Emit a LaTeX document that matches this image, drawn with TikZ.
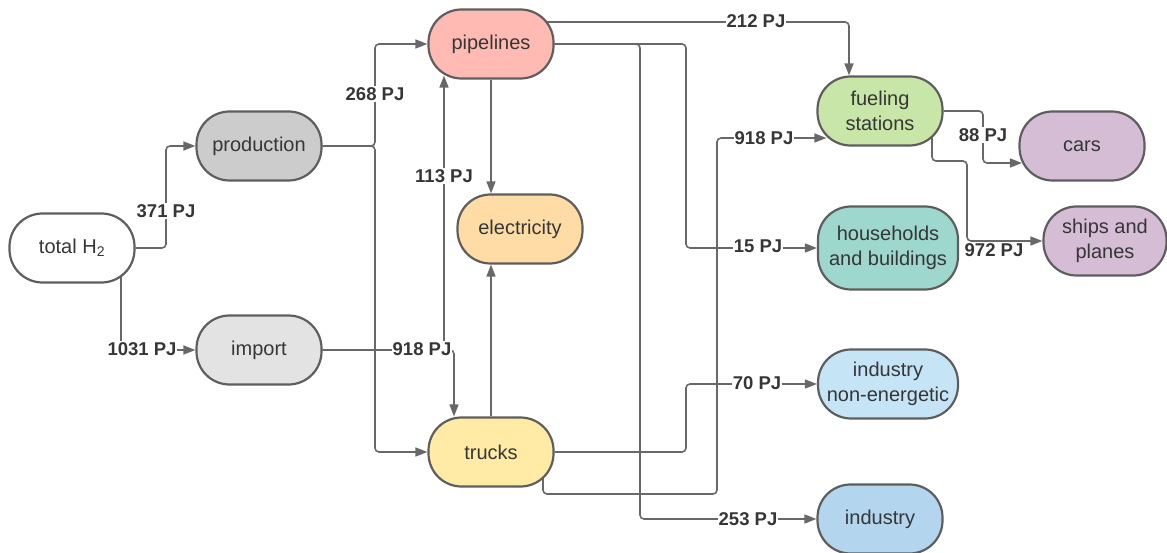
\documentclass[tikz,border=0pt]{standalone}
\usepackage{fontspec}
\setmainfont{Liberation Sans}
\usetikzlibrary{arrows.meta,backgrounds}

\definecolor{edgegray}{HTML}{5E5E5E}
\definecolor{linegray}{HTML}{686868}
\definecolor{txtgray}{HTML}{363636}
\definecolor{cProd}{HTML}{CCCCCC}
\definecolor{cImp}{HTML}{E3E3E3}
\definecolor{cPipe}{HTML}{FFBAB3}
\definecolor{cElec}{HTML}{FFDBA6}
\definecolor{cTruck}{HTML}{FFEBA5}
\definecolor{cFuel}{HTML}{C8E6A8}
\definecolor{cVeh}{HTML}{D5BDD6}
\definecolor{cHouse}{HTML}{9ED7CD}
\definecolor{cIndNE}{HTML}{C5E4F6}
\definecolor{cInd}{HTML}{B3D6EE}

\tikzset{
  stadium/.style={draw=edgegray, line width=2.2pt, rounded corners=33pt,
    minimum width=125pt, minimum height=69pt, inner sep=2pt, align=center,
    text=txtgray, font=\fontsize{20}{25}\selectfont},
  conn/.style={draw=linegray, line width=1.6pt, rounded corners=4pt},
  arr/.style={conn, -{Triangle[length=12pt,width=9pt]}},
  flow/.style={fill=white, inner sep=1pt, text=txtgray,
    font=\fontsize{18.5}{20}\selectfont\bfseries},
}

\begin{document}
\begin{tikzpicture}[x=1pt,y=-1pt]
\useasboundingbox (0,0) rectangle (1167,553);

% sources and carriers
\node[stadium, fill=white]  (tot) at (72,248)  {total H\textsubscript{2}};
\node[stadium, fill=cProd]  (prd) at (259,146) {production};
\node[stadium, fill=cImp]   (imp) at (259,350) {import};
\node[stadium, fill=cPipe]  (pip) at (491,44)  {pipelines};
\node[stadium, fill=cElec]  (ele) at (520,229) {electricity};
\node[stadium, fill=cTruck] (trk) at (491,452) {trucks};

% consumers
\node[stadium, fill=cFuel]  (fue) at (880,111) {fueling\\stations};
\node[stadium, fill=cVeh]   (car) at (1082,146) {cars};
\node[stadium, fill=cHouse, minimum width=140pt, minimum height=83pt]
                            (hh)  at (888,248) {households\\and buildings};
\node[stadium, fill=cVeh, minimum width=123pt] (shp) at (1105,241) {ships and\\planes};
\node[stadium, fill=cIndNE, minimum width=140pt] (ine) at (888,384) {industry\\non-energetic};
\node[stadium, fill=cInd]   (ind) at (880,519) {industry};

\begin{scope}[on background layer]
  % total H2 split
  \draw[arr] (tot.east) -- (166,248) |- (prd.west);
  \draw[arr] ([xshift=49pt]tot.center) |- (imp.west);
  % production
  \draw[arr] (prd.east) -- (375,146) |- (pip.west);
  \draw[arr] (prd.east) -- (375,146) |- (trk.west);
  % import
  \draw[arr] (imp.east) -| ([xshift=-47pt,yshift=4pt]pip.south);
  \draw[arr] (imp.east) -| ([xshift=-37pt]trk.north);
  % electricity
  \draw[arr] (pip.south) -- (pip.south |- ele.north);
  \draw[arr] (trk.north) -- (trk.north |- ele.south);
  % pipelines to consumers
  \draw[arr] ([yshift=22pt]pip.center) -| ([xshift=-31pt]fue.north);
  \draw[arr] (pip.east) -- (686,44) |- (hh.west);
  \draw[arr] (pip.east) -- (640,44) |- (ind.west);
  % trucks to consumers
  \draw[arr] (trk.east) -- (686,452) |- (ine.west);
  \draw[arr] ([xshift=52pt,yshift=-18pt]trk.center) |- (717,494)
             |- ([xshift=10pt,yshift=-27pt]fue.west);
  % fueling stations to vehicles
  \draw[arr] (fue.east) -- (983,111) |- ([xshift=3.5pt,yshift=-17pt]car.west);
  \draw[arr] ([xshift=52pt,yshift=-18pt]fue.center) |- (967,161) |- (shp.west);
\end{scope}

% flow amounts
\node[flow] (l371)  at (166,211) {371 PJ};
\node[flow] (l1031) at (142,349) {1031 PJ};
\node[flow] (l268)  at (375,94)  {268 PJ};
\node[flow] (l113)  at (444,176) {113 PJ};
\node[flow] (l918a) at (422,349) {918 PJ};
\node[flow] (l212)  at (756,21)  {212 PJ};
\node[flow] (l918b) at (764,138) {918 PJ};
\node[flow] (l15)   at (758,246) {15 PJ};
\node[flow] (l70)   at (757,383) {70 PJ};
\node[flow] (l253)  at (748,519) {253 PJ};
\node[flow] (l88)   at (983,135) {88 PJ};
\node[flow] (l972)  at (994,250) {972 PJ};
\end{tikzpicture}
\end{document}
